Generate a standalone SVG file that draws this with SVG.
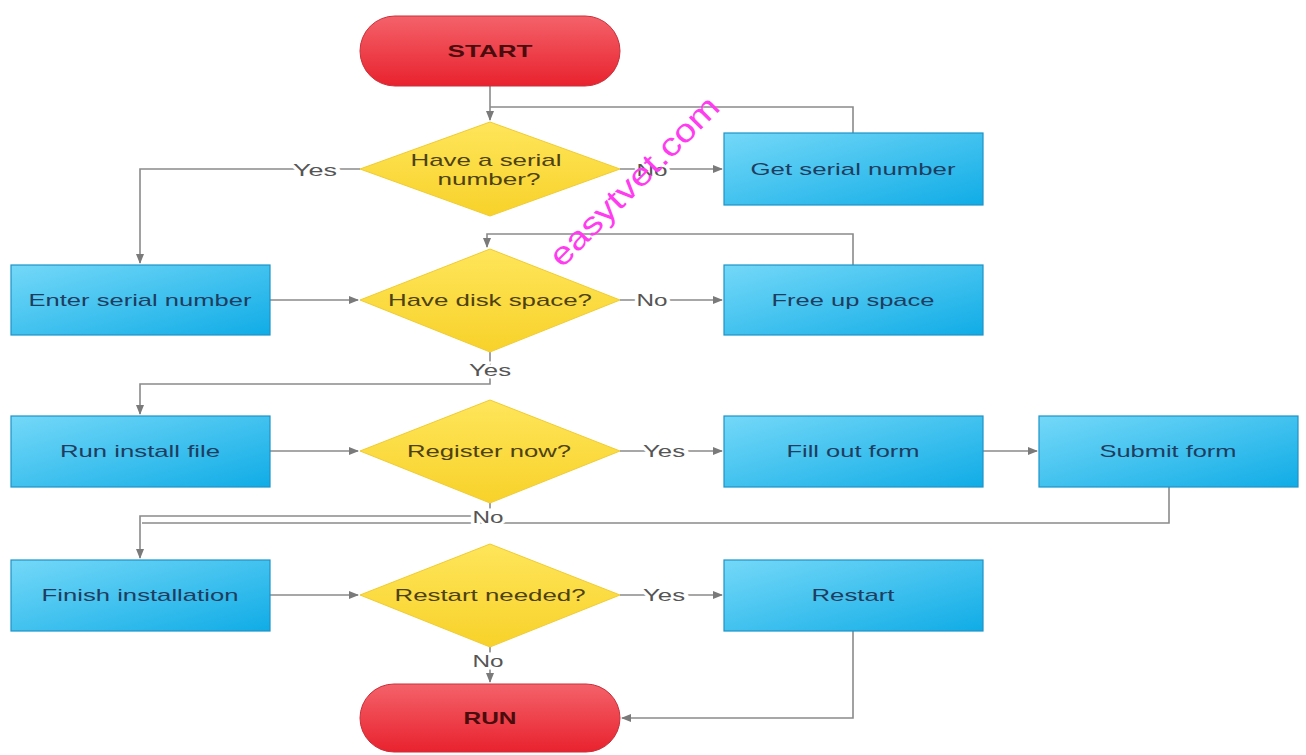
<svg xmlns="http://www.w3.org/2000/svg" width="1306" height="755" viewBox="0 0 1306 755">
<defs>
<linearGradient id="gBox" x1="0" y1="0" x2="1" y2="1">
<stop offset="0" stop-color="#74d8f8"/>
<stop offset="1" stop-color="#10ace6"/>
</linearGradient>
<linearGradient id="gDia" x1="0" y1="0" x2="0" y2="1">
<stop offset="0" stop-color="#fee55a"/>
<stop offset="1" stop-color="#f8d22a"/>
</linearGradient>
<linearGradient id="gRed" x1="0" y1="0" x2="0" y2="1">
<stop offset="0" stop-color="#f4626a"/>
<stop offset="1" stop-color="#e8222e"/>
</linearGradient>
<marker id="arr" viewBox="0 0 10 10" refX="9" refY="5" markerWidth="10" markerHeight="10" markerUnits="userSpaceOnUse" orient="auto">
<path d="M0,1 L10,5 L0,9 Z" fill="#7a7a7a"/>
</marker>
</defs>
<style>
.box{fill:url(#gBox);stroke:#1d93c8;stroke-width:1.2}
.dia{fill:url(#gDia);stroke:#f0cc30;stroke-width:1}
.term{fill:url(#gRed);stroke:#c8303a;stroke-width:1}
.t{font-family:"Liberation Sans",Arial,sans-serif;font-size:17px;text-anchor:middle;dominant-baseline:central}
.bt{fill:#1f3d60}
.dt{fill:#4e4212}
.rt{fill:#4a0c0c;font-weight:bold}
.c{fill:none;stroke:#8a8a8a;stroke-width:1.6}
.lbl{font-family:"Liberation Sans",Arial,sans-serif;font-size:17px;text-anchor:middle;dominant-baseline:central;fill:#555;stroke:#fff;stroke-width:5;paint-order:stroke}
</style>
<rect width="1306" height="755" fill="#fff"/>

<g id="connectors">
<path class="c" d="M490,86 V120" marker-end="url(#arr)"/>
<path class="c" d="M853,133 V107 H490"/>
<path class="c" d="M620,169 H722" marker-end="url(#arr)"/>
<path class="c" d="M360,169 H140 V263" marker-end="url(#arr)"/>
<path class="c" d="M270,300 H358" marker-end="url(#arr)"/>
<path class="c" d="M620,300 H722" marker-end="url(#arr)"/>
<path class="c" d="M853,265 V234 H487 V247" marker-end="url(#arr)"/>
<path class="c" d="M490,352 V384 H140 V414" marker-end="url(#arr)"/>
<path class="c" d="M270,451 H358" marker-end="url(#arr)"/>
<path class="c" d="M620,451 H722" marker-end="url(#arr)"/>
<path class="c" d="M983,451 H1037" marker-end="url(#arr)"/>
<path class="c" d="M490,503 V516 H140 V558" marker-end="url(#arr)"/>
<path class="c" d="M1169,487 V523 H142"/>
<path class="c" d="M270,595 H358" marker-end="url(#arr)"/>
<path class="c" d="M620,595 H722" marker-end="url(#arr)"/>
<path class="c" d="M490,647 V682" marker-end="url(#arr)"/>
<path class="c" d="M853,631 V718 H622" marker-end="url(#arr)"/>
<text class="lbl" x="315" y="170" textLength="44" lengthAdjust="spacingAndGlyphs">Yes</text>
<text class="lbl" x="652" y="170" textLength="31" lengthAdjust="spacingAndGlyphs">No</text>
<text class="lbl" x="652" y="300" textLength="31" lengthAdjust="spacingAndGlyphs">No</text>
<text class="lbl" x="490" y="370" textLength="42" lengthAdjust="spacingAndGlyphs">Yes</text>
<text class="lbl" x="664" y="451" textLength="42" lengthAdjust="spacingAndGlyphs">Yes</text>
<text class="lbl" x="488" y="517" textLength="31" lengthAdjust="spacingAndGlyphs">No</text>
<text class="lbl" x="664" y="595" textLength="42" lengthAdjust="spacingAndGlyphs">Yes</text>
<text class="lbl" x="488" y="661" textLength="31" lengthAdjust="spacingAndGlyphs">No</text>
</g>

<g id="start">
<rect class="term" x="360" y="16" width="260" height="70" rx="35" ry="35"/>
<text class="t rt" x="490" y="51" textLength="85" lengthAdjust="spacingAndGlyphs">START</text>
</g>
<g id="d-serial">
<polygon class="dia" points="490,122 620,169 490,216 360,169"/>
<text class="t dt" x="486" y="160" textLength="151" lengthAdjust="spacingAndGlyphs">Have a serial</text>
<text class="t dt" x="489" y="179" textLength="103" lengthAdjust="spacingAndGlyphs">number?</text>
</g>
<g id="get-serial">
<rect class="box" x="724" y="133" width="259" height="72"/>
<text class="t bt" x="853" y="169" textLength="205" lengthAdjust="spacingAndGlyphs">Get serial number</text>
</g>
<g id="enter-serial">
<rect class="box" x="11" y="265" width="259" height="70"/>
<text class="t bt" x="140" y="300" textLength="223" lengthAdjust="spacingAndGlyphs">Enter serial number</text>
</g>
<g id="d-disk">
<polygon class="dia" points="490,249 620,300 490,352 360,300"/>
<text class="t dt" x="490" y="300" textLength="204" lengthAdjust="spacingAndGlyphs">Have disk space?</text>
</g>
<g id="free-space">
<rect class="box" x="724" y="265" width="259" height="70"/>
<text class="t bt" x="853" y="300" textLength="163" lengthAdjust="spacingAndGlyphs">Free up space</text>
</g>
<g id="run-install">
<rect class="box" x="11" y="416" width="259" height="71"/>
<text class="t bt" x="140" y="451" textLength="160" lengthAdjust="spacingAndGlyphs">Run install file</text>
</g>
<g id="d-register">
<polygon class="dia" points="490,400 620,451 490,503 360,451"/>
<text class="t dt" x="489" y="451" textLength="164" lengthAdjust="spacingAndGlyphs">Register now?</text>
</g>
<g id="fill-form">
<rect class="box" x="724" y="416" width="259" height="71"/>
<text class="t bt" x="853" y="451" textLength="133" lengthAdjust="spacingAndGlyphs">Fill out form</text>
</g>
<g id="submit-form">
<rect class="box" x="1039" y="416" width="259" height="71"/>
<text class="t bt" x="1168" y="451" textLength="137" lengthAdjust="spacingAndGlyphs">Submit form</text>
</g>
<g id="finish">
<rect class="box" x="11" y="560" width="259" height="71"/>
<text class="t bt" x="140" y="595" textLength="197" lengthAdjust="spacingAndGlyphs">Finish installation</text>
</g>
<g id="d-restart">
<polygon class="dia" points="490,544 620,595 490,647 360,595"/>
<text class="t dt" x="490" y="595" textLength="191" lengthAdjust="spacingAndGlyphs">Restart needed?</text>
</g>
<g id="restart">
<rect class="box" x="724" y="560" width="259" height="71"/>
<text class="t bt" x="853" y="595" textLength="83" lengthAdjust="spacingAndGlyphs">Restart</text>
</g>
<g id="run">
<rect class="term" x="360" y="684" width="260" height="68" rx="34" ry="34"/>
<text class="t rt" x="490" y="718" textLength="53" lengthAdjust="spacingAndGlyphs">RUN</text>
</g>

<text x="634" y="181" transform="rotate(-45 634 181)" font-family="Liberation Sans, Arial, sans-serif" font-size="32" fill="#ff3cf0" text-anchor="middle" dominant-baseline="central" textLength="226" lengthAdjust="spacingAndGlyphs">easytvet.com</text>
</svg>
